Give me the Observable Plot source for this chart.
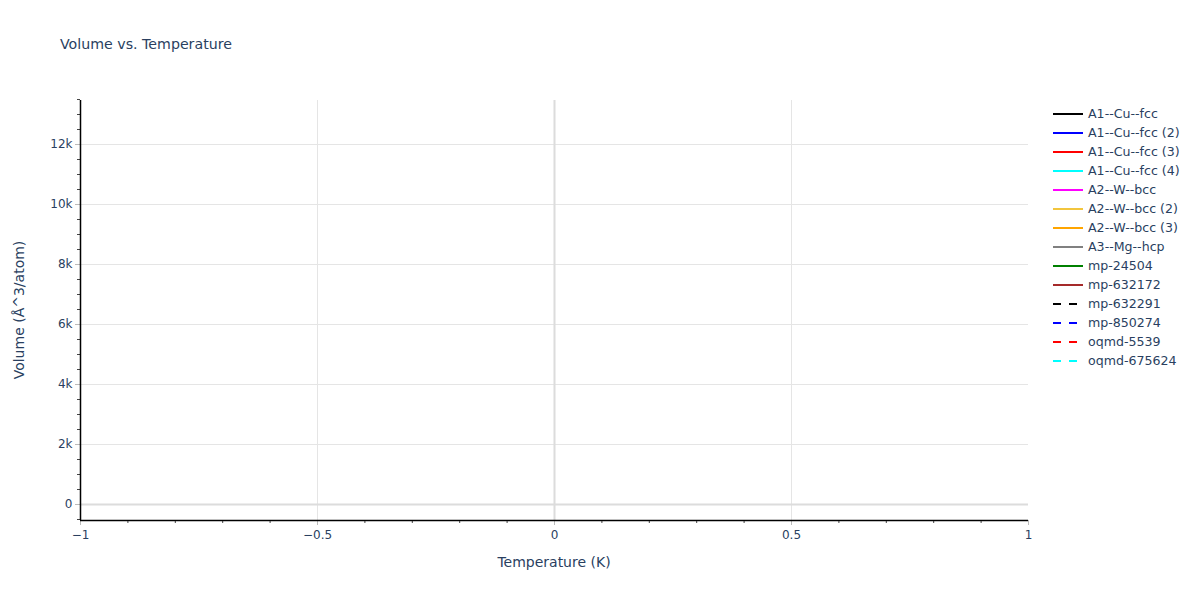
<!DOCTYPE html>
<html>
<head>
<meta charset="utf-8">
<script src="https://cdn.jsdelivr.net/npm/d3@7"></script>
<script src="https://cdn.jsdelivr.net/npm/@observablehq/plot@0.6"></script>
<style>
  html, body { margin: 0; padding: 0; background: #fff; }
  #chart { width: 1200px; height: 600px; }
</style>
</head>
<body>
<div id="chart"></div>
<script>
// ---- Data (top level) ----
const seriesNames = [
  "A1--Cu--fcc", "A1--Cu--fcc (2)", "A1--Cu--fcc (3)", "A1--Cu--fcc (4)",
  "A2--W--bcc", "A2--W--bcc (2)", "A2--W--bcc (3)", "A3--Mg--hcp",
  "mp-24504", "mp-632172", "mp-632291", "mp-850274", "oqmd-5539", "oqmd-675624"
];
const seriesColors = [
  "#000000", "#0000ff", "#ff0000", "#00ffff",
  "#ff00ff", "#f2c53d", "#ffa500", "#808080",
  "#008000", "#a52a2a", "#000000", "#0000ff", "#ff0000", "#00ffff"
];
const seriesDashed = [
  false, false, false, false, false, false, false, false,
  false, false, true, true, true, true
];
// No data points are visible in the reference chart
const temperatures = [];
const volumes = [];
const seriesOfPoint = [];

const xDomain = [-1, 1];
const yDomain = [-533, 13467];
const xMajorTicks = [-1, -0.5, 0, 0.5, 1];
const xMinorTicks = d3.range(-10, 11).map(i => i / 10);
const yMajorTicks = [0, 2000, 4000, 6000, 8000, 10000, 12000];
const yMinorTicks = d3.range(-500, 13501, 500);

const points = temperatures.map((t, i) => ({ t, v: volumes[i], s: seriesOfPoint[i] }));

const textColor = "#2a3f5f";
const gridColor = "#e5e5e5";
const zeroColor = "#dcdcdc";
const font = "'DejaVu Sans', Verdana, sans-serif";

const lineMarks = seriesNames.map((name, k) =>
  Plot.line(points.filter(p => p.s === name), {
    x: "t", y: "v", stroke: seriesColors[k], strokeWidth: 2,
    strokeDasharray: seriesDashed[k] ? "8,8" : null
  })
);

const chart = Plot.plot({
  width: 1200,
  height: 600,
  marginLeft: 80,
  marginRight: 172,
  marginTop: 100,
  marginBottom: 80,
  style: { fontFamily: font, fontSize: "12px", color: textColor, background: "#fff" },
  x: { domain: xDomain },
  y: { domain: yDomain },
  marks: [
    Plot.ruleX([-0.5, 0.5], { stroke: gridColor, strokeWidth: 1 }),
    Plot.ruleY(yMajorTicks.filter(d => d !== 0), { stroke: gridColor, strokeWidth: 1 }),
    Plot.ruleX([0], { stroke: zeroColor, strokeWidth: 2 }),
    Plot.ruleY([0], { stroke: zeroColor, strokeWidth: 2 }),
    ...lineMarks,
    Plot.axisX(xMinorTicks, { anchor: "bottom", tickSize: 3, stroke: "#444", tickFormat: () => "", label: null }),
    Plot.axisX(xMajorTicks, { anchor: "bottom", tickSize: 5, stroke: "#bbb", tickPadding: 5, fill: textColor, fontSize: 12, label: null,
      tickFormat: d => d3.format("")(d).replace("-", "\u2212") }),
    Plot.axisY(yMinorTicks, { anchor: "left", tickSize: 3, stroke: "#444", tickFormat: () => "", label: null }),
    Plot.axisY(yMajorTicks, { anchor: "left", tickSize: 5, stroke: "#bbb", tickPadding: 3, fill: textColor, fontSize: 12, label: null,
      tickFormat: d => d === 0 ? "0" : (d / 1000) + "k" }),
    Plot.ruleX([xDomain[0]], { stroke: "#000", strokeWidth: 1.5 }),
    Plot.ruleY([yDomain[0]], { stroke: "#000", strokeWidth: 1.5 })
  ]
});

document.getElementById("chart").appendChild(chart);

// ---- Titles and legend ----
const svg = d3.select(chart);

svg.append("text")
  .attr("x", 60).attr("y", 45)
  .attr("text-anchor", "start")
  .attr("dominant-baseline", "middle")
  .attr("font-family", font).attr("font-size", 14.2)
  .attr("fill", textColor)
  .text("Volume vs. Temperature");

svg.append("text")
  .attr("x", 554).attr("y", 563)
  .attr("text-anchor", "middle").attr("dominant-baseline", "middle")
  .attr("font-family", font).attr("font-size", 14)
  .attr("fill", textColor)
  .text("Temperature (K)");

svg.append("text")
  .attr("transform", "translate(20,310) rotate(-90)")
  .attr("text-anchor", "middle").attr("dominant-baseline", "middle")
  .attr("font-family", font).attr("font-size", 14)
  .attr("fill", textColor)
  .text("Volume (Å^3/atom)");

const legend = svg.append("g");
seriesNames.forEach((name, k) => {
  const y = 114 + k * 19;
  legend.append("line")
    .attr("x1", 1053).attr("x2", 1083).attr("y1", y).attr("y2", y)
    .attr("stroke", seriesColors[k]).attr("stroke-width", 2)
    .attr("stroke-dasharray", seriesDashed[k] ? "8,8" : null);
  legend.append("text")
    .attr("x", 1088).attr("y", y)
    .attr("text-anchor", "start")
    .attr("dominant-baseline", "middle")
    .attr("font-family", font).attr("font-size", 12.6)
    .attr("fill", textColor)
    .text(name);
});
</script>
</body>
</html>
